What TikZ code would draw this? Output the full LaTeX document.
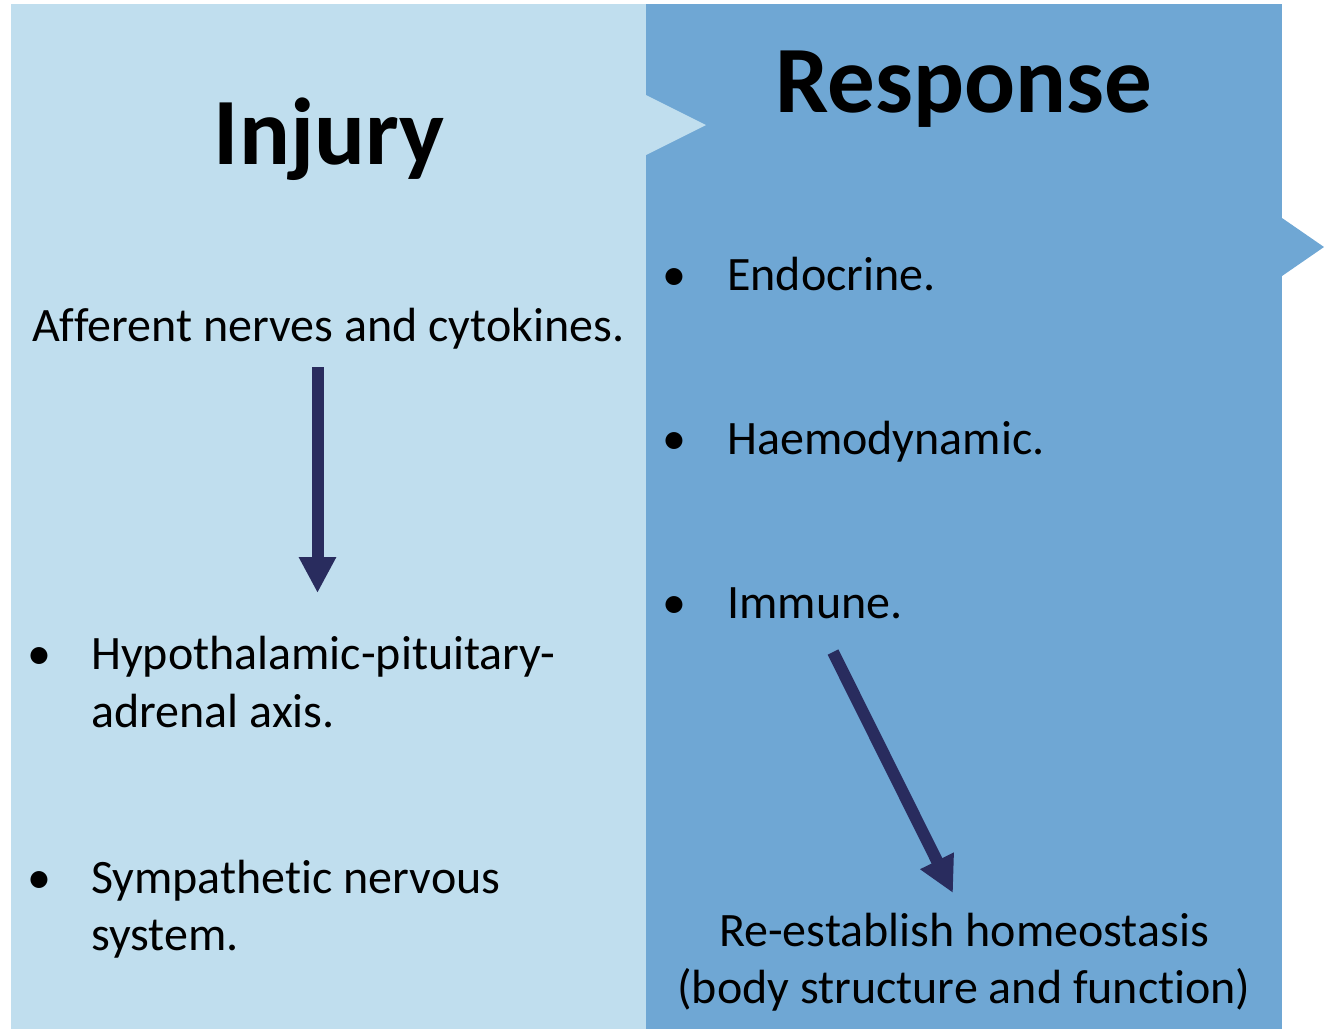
\documentclass[tikz,border=0pt]{standalone}
\usepackage{fontspec}
\setmainfont{Carlito}[Ligatures=NoCommon]
\usetikzlibrary{arrows.meta}
\definecolor{paleblue}{HTML}{C0DEEE}
\definecolor{midblue}{HTML}{6FA7D4}
\definecolor{navy}{HTML}{292C5E}
\tikzset{
  title/.style={font=\fontsize{95}{100}\selectfont\bfseries, anchor=base},
  body/.style={font=\fontsize{48}{58}\selectfont, anchor=base west, inner sep=0pt},
  bodyc/.style={font=\fontsize{48}{58}\selectfont, anchor=base, inner sep=0pt},
  bul/.style={font=\fontsize{48}{58}\selectfont, anchor=base, inner sep=0pt},
  flow/.style={navy, line width=12pt,
    -{Triangle[width=35pt,length=36pt]}},
}
\begin{document}
\begin{tikzpicture}[x=1pt,y=-1pt]
\useasboundingbox (0,0) rectangle (1324,1029);
% two panels
\fill[paleblue] (11,4) rectangle (646,1029);
\fill[midblue] (646,4) rectangle (1282,1029);
% chevron tips
\fill[paleblue] (646,95) -- (706,125) -- (646,155) -- cycle;
\fill[midblue] (1282,218) -- (1324,247) -- (1282,276) -- cycle;
% titles
\node[title] (injury) at (329,164) {Injury};
\node[title] (response) at (964,112) {Response};
% left column
\node[body] (afferent) at (32,341) {Afferent nerves and cytokines.};
\node[bul] (b1) at (39.5,669) {•};
\node[body] (hpa1) at (91,669) {Hypothalamic-pituitary-};
\node[body] (hpa2) at (91,727) {adrenal axis.};
\node[bul] (b2) at (39.5,893) {•};
\node[body] (sns1) at (91,893) {Sympathetic nervous};
\node[body] (sns2) at (91,950) {system.};
% right column
\node[bul] (b3) at (674,290) {•};
\node[body] (endo) at (727,290) {Endocrine.};
\node[bul] (b4) at (674,454) {•};
\node[body] (haemo) at (727,454) {Haemodynamic.};
\node[bul] (b5) at (674,618) {•};
\node[body] (immune) at (727,618) {Immune.};
\node[bodyc] (re1) at (964,946) {Re-establish homeostasis};
\node[bodyc] (re2) at (964,1003) {(body structure and function)};
% arrows
\coordinate (a1s) at (317.5,367);
\coordinate (a1e) at (317.5,593);
\coordinate (a2s) at (833,652);
\coordinate (a2e) at (953,893);
\draw[flow] (a1s) -- (a1e);
\draw[flow] (a2s) -- (a2e);
\end{tikzpicture}
\end{document}
